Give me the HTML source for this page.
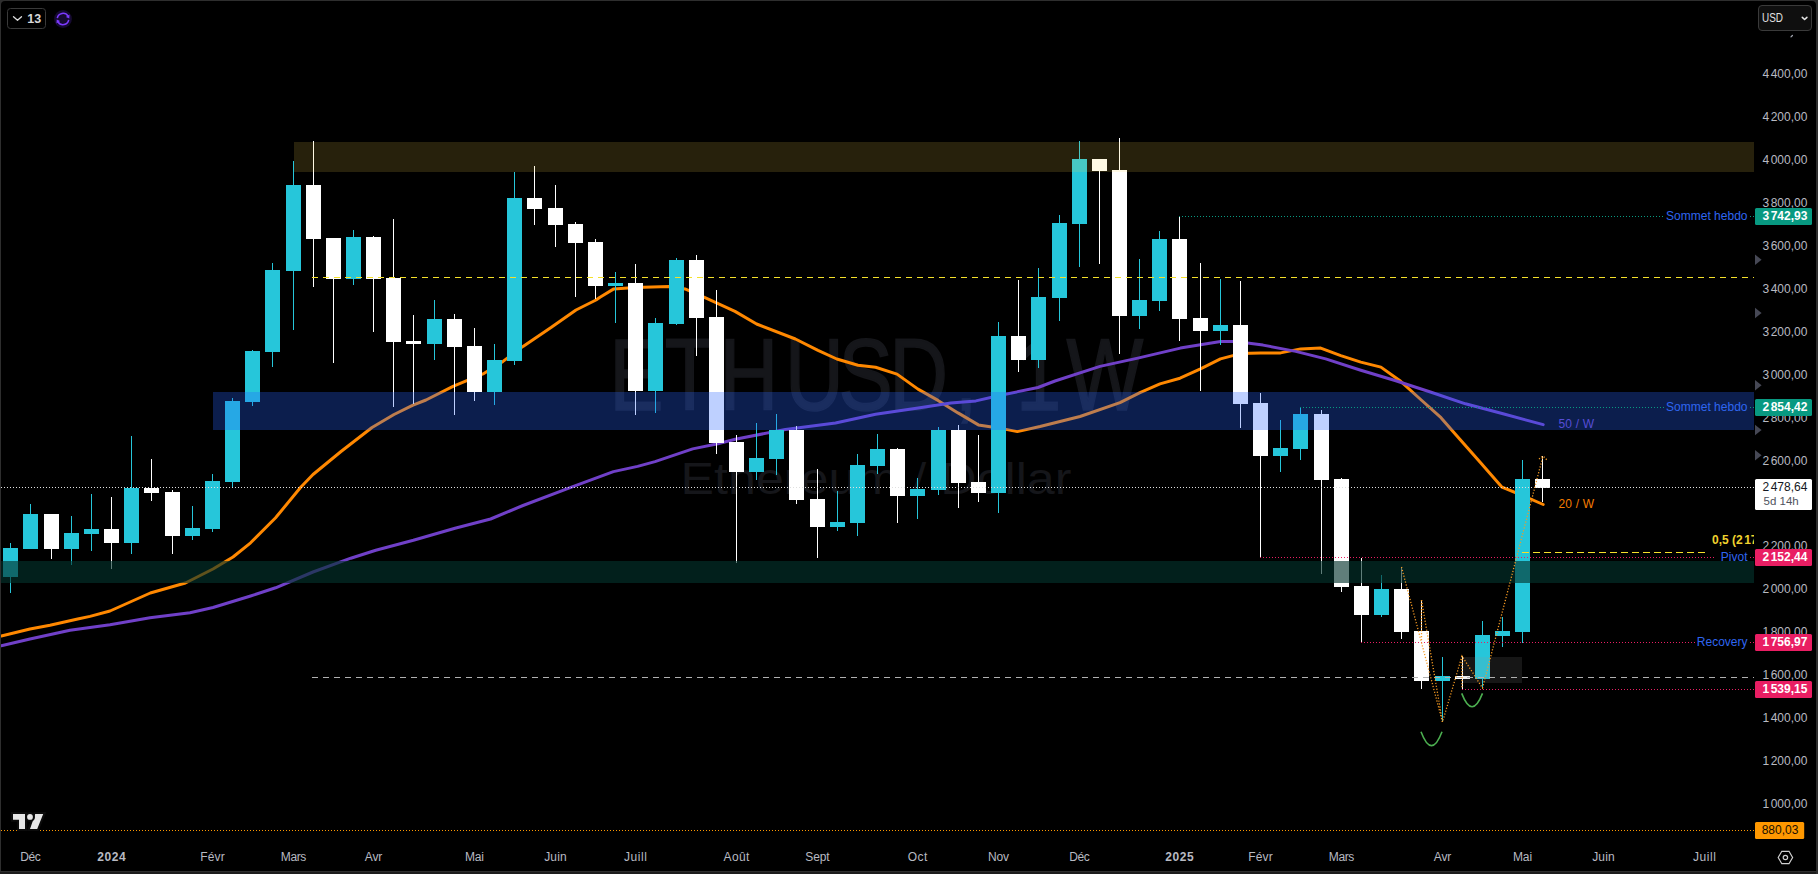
<!DOCTYPE html><html><head><meta charset="utf-8"><title>ETHUSD 1W</title><style>html,body{margin:0;padding:0;background:#000;overflow:hidden}</style></head><body><svg width="1818" height="874" viewBox="0 0 1818 874" style="display:block" font-family="Liberation Sans, sans-serif">
<rect x="0" y="0" width="1818" height="874" fill="#2e2e2e"/>
<rect x="0" y="872" width="1816" height="2" fill="#1c1c1c"/>
<path d="M1 871V5a4 4 0 0 1 4-4H1812a4 4 0 0 1 4 4V871Z" fill="#000"/>
<clipPath id="pane"><rect x="1" y="1" width="1753" height="840"/></clipPath>
<g clip-path="url(#pane)">
<g fill="#15161a">
<text transform="scale(0.8,1)" x="761.6 830.8 899.5 981.4 1048.0 1111.5 1193.4 1223.4 1269.9 1333.2" y="410.5" font-size="101.7" stroke="#15161a" stroke-width="1.6">ETHUSD, 1W</text>
<text x="680.5" y="494" font-size="45" textLength="391" lengthAdjust="spacingAndGlyphs">Ethereum / Dollar</text>
</g>
<polyline points="1.25,636 30,629 50,625.2 77.7,619 90,616.4 110,611 150.3,593 185.4,583 213,569 233,557 250.6,542.8 275.6,517.8 300.5,487.5 313,474.5 341,451.5 372,427.5 394,414.5 413,405.2 426,400 453,386.4 483,373.9 503,361.4 523,346.4 551,327.6 576,310 596,300 600,297.2 613.8,288.9 635,287.6 669,286.6 685,288.9 705,297.7 735,311.4 756.6,324 795.4,339 818,350.3 836.8,359 858,365.3 875.6,367.3 897,374.1 918,389.1 938,400.4 958,412.9 978.4,424.9 998.4,427.9 1017.3,431.6 1040,426.5 1080,416.5 1120,402.7 1140,392.7 1160,383.9 1180,378.2 1200.5,368.9 1220.5,358.9 1240.5,353.6 1260.6,352.9 1280.6,352.9 1300.7,348.9 1320.7,348.1 1340.8,355.6 1360.8,362.1 1380.9,367.1 1400.7,381.3 1420.7,399.5 1441,417.7 1453,431.4 1480.6,462.7 1502,487.2 1522.6,495.5 1543.2,504.5" fill="none" stroke="#ff8800" stroke-width="3" stroke-linejoin="round" stroke-linecap="round"/>
<polyline points="1.25,645.7 30,639 70,630.2 110,624.7 150,617.7 190,612.7 213,607.5 250.6,596 275.6,587.8 313,572 350.8,558.2 375.8,550.2 413.4,540.3 455,528.3 490.6,519 523,505.5 570.8,487.4 613.4,471.6 637.6,466.4 655,461.6 692.7,448.9 717.8,443.8 735.3,439.2 785.4,429.5 835.5,423 875.6,414.2 918.2,407.9 950.8,402.9 975.9,400.9 1000.5,395.3 1038,387.5 1055,381 1100,366.4 1137.8,358.1 1180.4,348.1 1220.5,341.6 1235.5,341.6 1263,345.1 1295.7,351.4 1325.7,358.9 1360.8,370.2 1395,380.5 1430.4,392 1465.5,403.8 1503,413.8 1543.2,424.6" fill="none" stroke="#7040c8" stroke-width="3" stroke-linejoin="round" stroke-linecap="round"/>
<text x="1558.5" y="428" font-size="12" fill="#6a45c4" textLength="35.6">50 / W</text>
<text x="1558.5" y="508" font-size="12" fill="#f57c00" textLength="35.6">20 / W</text>
<g shape-rendering="crispEdges">
<rect x="10" y="543" width="1" height="50" fill="#26c6da"/>
<rect x="30" y="504" width="1" height="45" fill="#26c6da"/>
<rect x="51" y="514" width="1" height="45" fill="#ffffff"/>
<rect x="71" y="516" width="1" height="49" fill="#26c6da"/>
<rect x="91" y="494" width="1" height="57" fill="#26c6da"/>
<rect x="111" y="497" width="1" height="72" fill="#ffffff"/>
<rect x="131" y="436" width="1" height="118" fill="#26c6da"/>
<rect x="151" y="459" width="1" height="42" fill="#ffffff"/>
<rect x="172" y="490" width="1" height="64" fill="#ffffff"/>
<rect x="192" y="506" width="1" height="34" fill="#26c6da"/>
<rect x="212" y="474" width="1" height="58" fill="#26c6da"/>
<rect x="232" y="398" width="1" height="89" fill="#26c6da"/>
<rect x="252" y="350" width="1" height="56" fill="#26c6da"/>
<rect x="272" y="263" width="1" height="104" fill="#26c6da"/>
<rect x="293" y="161" width="1" height="169" fill="#26c6da"/>
<rect x="313" y="141" width="1" height="146" fill="#ffffff"/>
<rect x="333" y="238" width="1" height="125" fill="#ffffff"/>
<rect x="353" y="230" width="1" height="55" fill="#26c6da"/>
<rect x="373" y="236" width="1" height="96" fill="#ffffff"/>
<rect x="393" y="219" width="1" height="188" fill="#ffffff"/>
<rect x="413" y="315" width="1" height="89" fill="#ffffff"/>
<rect x="434" y="300" width="1" height="60" fill="#26c6da"/>
<rect x="454" y="314" width="1" height="101" fill="#ffffff"/>
<rect x="474" y="328" width="1" height="73" fill="#ffffff"/>
<rect x="494" y="344" width="1" height="61" fill="#26c6da"/>
<rect x="514" y="172" width="1" height="193" fill="#26c6da"/>
<rect x="534" y="166" width="1" height="59" fill="#ffffff"/>
<rect x="555" y="185" width="1" height="62" fill="#ffffff"/>
<rect x="575" y="222" width="1" height="75" fill="#ffffff"/>
<rect x="595" y="239" width="1" height="60" fill="#ffffff"/>
<rect x="615" y="272" width="1" height="51" fill="#26c6da"/>
<rect x="635" y="264" width="1" height="151" fill="#ffffff"/>
<rect x="655" y="318" width="1" height="95" fill="#26c6da"/>
<rect x="676" y="258" width="1" height="67" fill="#26c6da"/>
<rect x="696" y="255" width="1" height="101" fill="#ffffff"/>
<rect x="716" y="290" width="1" height="164" fill="#ffffff"/>
<rect x="736" y="435" width="1" height="128" fill="#ffffff"/>
<rect x="756" y="423" width="1" height="57" fill="#26c6da"/>
<rect x="776" y="414" width="1" height="61" fill="#26c6da"/>
<rect x="796" y="426" width="1" height="78" fill="#ffffff"/>
<rect x="817" y="469" width="1" height="89" fill="#ffffff"/>
<rect x="837" y="491" width="1" height="40" fill="#26c6da"/>
<rect x="857" y="454" width="1" height="82" fill="#26c6da"/>
<rect x="877" y="434" width="1" height="40" fill="#26c6da"/>
<rect x="897" y="448" width="1" height="75" fill="#ffffff"/>
<rect x="917" y="478" width="1" height="41" fill="#26c6da"/>
<rect x="938" y="427" width="1" height="68" fill="#26c6da"/>
<rect x="958" y="425" width="1" height="83" fill="#ffffff"/>
<rect x="978" y="435" width="1" height="67" fill="#ffffff"/>
<rect x="998" y="322" width="1" height="191" fill="#26c6da"/>
<rect x="1018" y="280" width="1" height="92" fill="#ffffff"/>
<rect x="1038" y="268" width="1" height="100" fill="#26c6da"/>
<rect x="1059" y="215" width="1" height="106" fill="#26c6da"/>
<rect x="1079" y="141" width="1" height="126" fill="#26c6da"/>
<rect x="1099" y="159" width="1" height="105" fill="#ffffff"/>
<rect x="1119" y="138" width="1" height="216" fill="#ffffff"/>
<rect x="1139" y="259" width="1" height="70" fill="#26c6da"/>
<rect x="1159" y="231" width="1" height="80" fill="#26c6da"/>
<rect x="1179" y="216" width="1" height="125" fill="#ffffff"/>
<rect x="1200" y="263" width="1" height="128" fill="#ffffff"/>
<rect x="1220" y="279" width="1" height="66" fill="#26c6da"/>
<rect x="1240" y="281" width="1" height="147" fill="#ffffff"/>
<rect x="1260" y="393" width="1" height="164" fill="#ffffff"/>
<rect x="1280" y="420" width="1" height="52" fill="#26c6da"/>
<rect x="1300" y="407" width="1" height="53" fill="#26c6da"/>
<rect x="1321" y="410" width="1" height="164" fill="#ffffff"/>
<rect x="1341" y="478" width="1" height="114" fill="#ffffff"/>
<rect x="1361" y="558" width="1" height="84" fill="#ffffff"/>
<rect x="1381" y="575" width="1" height="42" fill="#26c6da"/>
<rect x="1401" y="567" width="1" height="72" fill="#ffffff"/>
<rect x="1421" y="600" width="1" height="89" fill="#ffffff"/>
<rect x="1442" y="657" width="1" height="65" fill="#26c6da"/>
<rect x="1462" y="656" width="1" height="33" fill="#ffffff"/>
<rect x="1482" y="621" width="1" height="67" fill="#26c6da"/>
<rect x="1502" y="617" width="1" height="30" fill="#26c6da"/>
<rect x="1522" y="460" width="1" height="183" fill="#26c6da"/>
<rect x="1542" y="456" width="1" height="46" fill="#ffffff"/>
<rect x="3" y="548" width="15" height="29" fill="#26c6da"/>
<rect x="23" y="514" width="15" height="35" fill="#26c6da"/>
<rect x="44" y="514" width="15" height="35" fill="#ffffff"/>
<rect x="64" y="533" width="15" height="16" fill="#26c6da"/>
<rect x="84" y="529" width="15" height="5" fill="#26c6da"/>
<rect x="104" y="529" width="15" height="14" fill="#ffffff"/>
<rect x="124" y="488" width="15" height="55" fill="#26c6da"/>
<rect x="144" y="488" width="15" height="5" fill="#ffffff"/>
<rect x="165" y="492" width="15" height="44" fill="#ffffff"/>
<rect x="185" y="528" width="15" height="8" fill="#26c6da"/>
<rect x="205" y="481" width="15" height="48" fill="#26c6da"/>
<rect x="225" y="401" width="15" height="81" fill="#26c6da"/>
<rect x="245" y="351" width="15" height="51" fill="#26c6da"/>
<rect x="265" y="270" width="15" height="82" fill="#26c6da"/>
<rect x="286" y="185" width="15" height="86" fill="#26c6da"/>
<rect x="306" y="185" width="15" height="54" fill="#ffffff"/>
<rect x="326" y="238" width="15" height="41" fill="#ffffff"/>
<rect x="346" y="237" width="15" height="42" fill="#26c6da"/>
<rect x="366" y="237" width="15" height="42" fill="#ffffff"/>
<rect x="386" y="278" width="15" height="64" fill="#ffffff"/>
<rect x="406" y="341" width="15" height="3" fill="#ffffff"/>
<rect x="427" y="319" width="15" height="25" fill="#26c6da"/>
<rect x="447" y="319" width="15" height="28" fill="#ffffff"/>
<rect x="467" y="346" width="15" height="46" fill="#ffffff"/>
<rect x="487" y="360" width="15" height="32" fill="#26c6da"/>
<rect x="507" y="198" width="15" height="163" fill="#26c6da"/>
<rect x="527" y="198" width="15" height="11" fill="#ffffff"/>
<rect x="548" y="208" width="15" height="17" fill="#ffffff"/>
<rect x="568" y="224" width="15" height="19" fill="#ffffff"/>
<rect x="588" y="242" width="15" height="44" fill="#ffffff"/>
<rect x="608" y="283" width="15" height="3" fill="#26c6da"/>
<rect x="628" y="283" width="15" height="108" fill="#ffffff"/>
<rect x="648" y="323" width="15" height="68" fill="#26c6da"/>
<rect x="669" y="260" width="15" height="64" fill="#26c6da"/>
<rect x="689" y="260" width="15" height="58" fill="#ffffff"/>
<rect x="709" y="317" width="15" height="126" fill="#ffffff"/>
<rect x="729" y="442" width="15" height="30" fill="#ffffff"/>
<rect x="749" y="458" width="15" height="14" fill="#26c6da"/>
<rect x="769" y="430" width="15" height="29" fill="#26c6da"/>
<rect x="789" y="430" width="15" height="70" fill="#ffffff"/>
<rect x="810" y="499" width="15" height="28" fill="#ffffff"/>
<rect x="830" y="522" width="15" height="5" fill="#26c6da"/>
<rect x="850" y="465" width="15" height="58" fill="#26c6da"/>
<rect x="870" y="449" width="15" height="17" fill="#26c6da"/>
<rect x="890" y="449" width="15" height="47" fill="#ffffff"/>
<rect x="910" y="489" width="15" height="7" fill="#26c6da"/>
<rect x="931" y="430" width="15" height="60" fill="#26c6da"/>
<rect x="951" y="430" width="15" height="53" fill="#ffffff"/>
<rect x="971" y="482" width="15" height="11" fill="#ffffff"/>
<rect x="991" y="336" width="15" height="157" fill="#26c6da"/>
<rect x="1011" y="336" width="15" height="24" fill="#ffffff"/>
<rect x="1031" y="297" width="15" height="63" fill="#26c6da"/>
<rect x="1052" y="223" width="15" height="75" fill="#26c6da"/>
<rect x="1072" y="159" width="15" height="65" fill="#26c6da"/>
<rect x="1092" y="159" width="15" height="12" fill="#ffffff"/>
<rect x="1112" y="170" width="15" height="146" fill="#ffffff"/>
<rect x="1132" y="300" width="15" height="16" fill="#26c6da"/>
<rect x="1152" y="239" width="15" height="62" fill="#26c6da"/>
<rect x="1172" y="239" width="15" height="80" fill="#ffffff"/>
<rect x="1193" y="318" width="15" height="13" fill="#ffffff"/>
<rect x="1213" y="325" width="15" height="6" fill="#26c6da"/>
<rect x="1233" y="325" width="15" height="79" fill="#ffffff"/>
<rect x="1253" y="403" width="15" height="53" fill="#ffffff"/>
<rect x="1273" y="448" width="15" height="8" fill="#26c6da"/>
<rect x="1293" y="414" width="15" height="35" fill="#26c6da"/>
<rect x="1314" y="414" width="15" height="66" fill="#ffffff"/>
<rect x="1334" y="479" width="15" height="108" fill="#ffffff"/>
<rect x="1354" y="586" width="15" height="29" fill="#ffffff"/>
<rect x="1374" y="589" width="15" height="26" fill="#26c6da"/>
<rect x="1394" y="589" width="15" height="43" fill="#ffffff"/>
<rect x="1414" y="631" width="15" height="50" fill="#ffffff"/>
<rect x="1435" y="676" width="15" height="5" fill="#26c6da"/>
<rect x="1455" y="676" width="15" height="3" fill="#ffffff"/>
<rect x="1475" y="635" width="15" height="44" fill="#26c6da"/>
<rect x="1495" y="631" width="15" height="5" fill="#26c6da"/>
<rect x="1515" y="479" width="15" height="153" fill="#26c6da"/>
<rect x="1535" y="479" width="15" height="9" fill="#ffffff"/>
</g>
<g shape-rendering="crispEdges">
<rect x="294" y="142" width="1460" height="30" fill="rgb(255,213,80)" fill-opacity="0.153"/>
<rect x="213" y="392" width="1541" height="38" fill="rgb(41,98,255)" fill-opacity="0.3"/>
<rect x="1" y="561" width="1753" height="22" fill="rgb(3,51,44)" fill-opacity="0.63"/>
<rect x="1463" y="657" width="59" height="26" fill="rgb(150,150,150)" fill-opacity="0.15"/>
</g>
<line x1="312" y1="277.5" x2="1754" y2="277.5" stroke="#f5e12a" stroke-width="1" stroke-dasharray="6 5" shape-rendering="crispEdges" />
<line x1="1522" y1="552.5" x2="1706" y2="552.5" stroke="#f5e12a" stroke-width="1" stroke-dasharray="7 4" shape-rendering="crispEdges" />
<line x1="312" y1="677.5" x2="1754" y2="677.5" stroke="#b0b0b0" stroke-width="1" stroke-dasharray="6 5" shape-rendering="crispEdges" />
<line x1="1" y1="487.5" x2="1754" y2="487.5" stroke="#e0e0e0" stroke-width="1" stroke-dasharray="1 2" shape-rendering="crispEdges" />
<line x1="1179" y1="216.5" x2="1665" y2="216.5" stroke="#089981" stroke-width="1" stroke-dasharray="1 2" shape-rendering="crispEdges" />
<line x1="1750" y1="216.5" x2="1754" y2="216.5" stroke="#089981" stroke-width="1" stroke-dasharray="1 2" shape-rendering="crispEdges" />
<line x1="1300" y1="407.5" x2="1665" y2="407.5" stroke="#089981" stroke-width="1" stroke-dasharray="1 2" shape-rendering="crispEdges" />
<line x1="1750" y1="407.5" x2="1754" y2="407.5" stroke="#089981" stroke-width="1" stroke-dasharray="1 2" shape-rendering="crispEdges" />
<line x1="1260" y1="557.5" x2="1716" y2="557.5" stroke="#e91e63" stroke-width="1" stroke-dasharray="1 2" shape-rendering="crispEdges" />
<line x1="1750" y1="557.5" x2="1754" y2="557.5" stroke="#e91e63" stroke-width="1" stroke-dasharray="1 2" shape-rendering="crispEdges" />
<line x1="1361" y1="642.5" x2="1695" y2="642.5" stroke="#e91e63" stroke-width="1" stroke-dasharray="1 2" shape-rendering="crispEdges" />
<line x1="1750" y1="642.5" x2="1754" y2="642.5" stroke="#e91e63" stroke-width="1" stroke-dasharray="1 2" shape-rendering="crispEdges" />
<line x1="1462" y1="689.5" x2="1754" y2="689.5" stroke="#e91e63" stroke-width="1" stroke-dasharray="1 2" shape-rendering="crispEdges" />
<line x1="1" y1="830.5" x2="1754" y2="830.5" stroke="#ff9800" stroke-width="1" stroke-dasharray="1 2" shape-rendering="crispEdges" />
<polyline points="1401.5,567 1442.5,722 1462,656 1482.5,688 1543,456" fill="none" stroke="#f59a23" stroke-width="1.3" stroke-dasharray="1.2 1.8"/>
<polyline points="1421.5,600 1442.5,722" fill="none" stroke="#f59a23" stroke-width="1.3" stroke-dasharray="1.2 1.8"/>
<polyline points="1421.5,600 1421.5,640" fill="none" stroke="#f59a23" stroke-width="1.3" stroke-dasharray="1.2 1.8"/>
<polyline points="1462,656 1462,689" fill="none" stroke="#f59a23" stroke-width="1.3" stroke-dasharray="1.2 1.8"/>
<polyline points="1539,459 1543,456 1547,460" fill="none" stroke="#f59a23" stroke-width="1.3" stroke-dasharray="1.2 1.8"/>
<path d="M1421 731.7Q1431.5 759.5 1442 731.7" fill="none" stroke="#4caf50" stroke-width="1.6"/>
<path d="M1461.7 693.4Q1472 720 1482.5 693.4" fill="none" stroke="#4caf50" stroke-width="1.6"/>
<g font-size="12" fill="#2f66f0" text-anchor="end">
<text x="1747.5" y="220">Sommet hebdo</text>
<text x="1747.5" y="411">Sommet hebdo</text>
<text x="1747.5" y="561">Pivot</text>
<text x="1747.5" y="646">Recovery</text>
</g>
<text x="1712" y="544" font-size="12" font-weight="bold" fill="#f0d22e">0,5 (2<tspan dx="1.5">172,29)</tspan></text>
<g transform="translate(13,814)">
<path d="M0 0H12V15H6V5.7H0Z M22.2 0H30.2L24.2 15H17Z" fill="#e6e6e6" stroke="#0b0b0b" stroke-width="4.2" paint-order="stroke" stroke-linejoin="miter"/>
<circle cx="17" cy="2.9" r="2.9" fill="#e6e6e6" stroke="#0b0b0b" stroke-width="4.2" paint-order="stroke"/>
</g>
</g>
<rect x="7.5" y="8.5" width="38" height="20" rx="3" fill="none" stroke="#3a3a3a"/>
<path d="M13.5 16.7L17.5 20.3L21.5 16.7" fill="none" stroke="#dcdcdc" stroke-width="1.3" stroke-linecap="round" stroke-linejoin="round"/>
<text x="27.2" y="23" font-size="12.5" font-weight="bold" fill="#d8d8d8">13</text>
<circle cx="63" cy="19" r="8.9" fill="#160a32"/>
<g fill="none" stroke="#7c3aff" stroke-width="1.5">
<path d="M57.3 18.2A5.8 5.8 0 0 1 68 16.2"/>
<path d="M68.7 19.8A5.8 5.8 0 0 1 58 21.8"/>
</g>
<path d="M69.5 14.6L69.3 18.5L65.9 17Z M56.5 23.4L56.7 19.5L60.1 21Z" fill="#7c3aff"/>
<rect x="1758.5" y="5.5" width="53" height="25" rx="3.5" fill="#0f0f0f" stroke="#3a3a3a"/>
<text x="1762" y="22" font-size="12" fill="#e0e0e0" textLength="21" lengthAdjust="spacingAndGlyphs">USD</text>
<path d="M1802.3 17.4L1804.6 19.5L1806.9 17.4" fill="none" stroke="#e4e4e4" stroke-width="1.6" stroke-linecap="round" stroke-linejoin="round"/>
<path d="M1791 36.9L1792.4 35.5" stroke="#a0a3ad" stroke-width="1.3" stroke-linecap="round"/>
<text x="1807.4" y="78" font-size="12" fill="#b8bac2" font-weight="normal" text-anchor="end"><tspan>4</tspan><tspan dx="1.6">400,00</tspan></text>
<text x="1807.4" y="121" font-size="12" fill="#b8bac2" font-weight="normal" text-anchor="end"><tspan>4</tspan><tspan dx="1.6">200,00</tspan></text>
<text x="1807.4" y="164" font-size="12" fill="#b8bac2" font-weight="normal" text-anchor="end"><tspan>4</tspan><tspan dx="1.6">000,00</tspan></text>
<text x="1807.4" y="207" font-size="12" fill="#b8bac2" font-weight="normal" text-anchor="end"><tspan>3</tspan><tspan dx="1.6">800,00</tspan></text>
<text x="1807.4" y="250" font-size="12" fill="#b8bac2" font-weight="normal" text-anchor="end"><tspan>3</tspan><tspan dx="1.6">600,00</tspan></text>
<text x="1807.4" y="293" font-size="12" fill="#b8bac2" font-weight="normal" text-anchor="end"><tspan>3</tspan><tspan dx="1.6">400,00</tspan></text>
<text x="1807.4" y="336" font-size="12" fill="#b8bac2" font-weight="normal" text-anchor="end"><tspan>3</tspan><tspan dx="1.6">200,00</tspan></text>
<text x="1807.4" y="379" font-size="12" fill="#b8bac2" font-weight="normal" text-anchor="end"><tspan>3</tspan><tspan dx="1.6">000,00</tspan></text>
<text x="1807.4" y="422" font-size="12" fill="#b8bac2" font-weight="normal" text-anchor="end"><tspan>2</tspan><tspan dx="1.6">800,00</tspan></text>
<text x="1807.4" y="465" font-size="12" fill="#b8bac2" font-weight="normal" text-anchor="end"><tspan>2</tspan><tspan dx="1.6">600,00</tspan></text>
<text x="1807.4" y="550" font-size="12" fill="#b8bac2" font-weight="normal" text-anchor="end"><tspan>2</tspan><tspan dx="1.6">200,00</tspan></text>
<text x="1807.4" y="593" font-size="12" fill="#b8bac2" font-weight="normal" text-anchor="end"><tspan>2</tspan><tspan dx="1.6">000,00</tspan></text>
<text x="1807.4" y="636" font-size="12" fill="#b8bac2" font-weight="normal" text-anchor="end"><tspan>1</tspan><tspan dx="1.6">800,00</tspan></text>
<text x="1807.4" y="679" font-size="12" fill="#b8bac2" font-weight="normal" text-anchor="end"><tspan>1</tspan><tspan dx="1.6">600,00</tspan></text>
<text x="1807.4" y="722" font-size="12" fill="#b8bac2" font-weight="normal" text-anchor="end"><tspan>1</tspan><tspan dx="1.6">400,00</tspan></text>
<text x="1807.4" y="765" font-size="12" fill="#b8bac2" font-weight="normal" text-anchor="end"><tspan>1</tspan><tspan dx="1.6">200,00</tspan></text>
<text x="1807.4" y="808" font-size="12" fill="#b8bac2" font-weight="normal" text-anchor="end"><tspan>1</tspan><tspan dx="1.6">000,00</tspan></text>
<path d="M1755 254.6L1761.6 259.8L1755 265.0Z" fill="#464855"/>
<path d="M1755 307.8L1761.6 313L1755 318.2Z" fill="#464855"/>
<path d="M1755 380.0L1761.6 385.2L1755 390.4Z" fill="#464855"/>
<path d="M1755 424.8L1761.6 430L1755 435.2Z" fill="#464855"/>
<path d="M1755 450.1L1761.6 455.3L1755 460.5Z" fill="#464855"/>
<rect x="1755" y="208" width="57" height="17" rx="1.5" fill="#089981"/>
<text x="1807.4" y="220" font-size="12" fill="#fff" font-weight="bold" text-anchor="end"><tspan>3</tspan><tspan dx="1.6">742,93</tspan></text>
<rect x="1755" y="399" width="57" height="17" rx="1.5" fill="#089981"/>
<text x="1807.4" y="411" font-size="12" fill="#fff" font-weight="bold" text-anchor="end"><tspan>2</tspan><tspan dx="1.6">854,42</tspan></text>
<rect x="1755" y="549" width="57" height="17" rx="1.5" fill="#e91e63"/>
<text x="1807.4" y="561" font-size="12" fill="#fff" font-weight="bold" text-anchor="end"><tspan>2</tspan><tspan dx="1.6">152,44</tspan></text>
<rect x="1755" y="634" width="57" height="17" rx="1.5" fill="#e91e63"/>
<text x="1807.4" y="646" font-size="12" fill="#fff" font-weight="bold" text-anchor="end"><tspan>1</tspan><tspan dx="1.6">756,97</tspan></text>
<rect x="1755" y="681" width="57" height="17" rx="1.5" fill="#e91e63"/>
<text x="1807.4" y="693" font-size="12" fill="#fff" font-weight="bold" text-anchor="end"><tspan>1</tspan><tspan dx="1.6">539,15</tspan></text>
<rect x="1755" y="479" width="57" height="31" rx="1.5" fill="#fff"/>
<text x="1807.4" y="491" font-size="12" fill="#131722" font-weight="normal" text-anchor="end"><tspan>2</tspan><tspan dx="1.6">478,64</tspan></text>
<text x="1763.5" y="505" font-size="11.5" fill="#50535e">5d 14h</text>
<rect x="1755" y="822" width="49.2" height="17" rx="1.5" fill="#ff9800"/>
<text x="1798.4" y="834" font-size="12" fill="#201000" text-anchor="end">880,03</text>
<text x="20.2" y="861" font-size="12" fill="#b8bac2" textLength="20.5">Déc</text>
<text x="97.2" y="861" font-size="12" fill="#b8bac2" textLength="28.5" font-weight="bold">2024</text>
<text x="200.2" y="861" font-size="12" fill="#b8bac2" textLength="24.5">Févr</text>
<text x="280.8" y="861" font-size="12" fill="#b8bac2" textLength="25.5">Mars</text>
<text x="364.8" y="861" font-size="12" fill="#b8bac2" textLength="17.5">Avr</text>
<text x="464.9" y="861" font-size="12" fill="#b8bac2" textLength="19.1">Mai</text>
<text x="544.2" y="861" font-size="12" fill="#b8bac2" textLength="22.5">Juin</text>
<text x="624.1" y="861" font-size="12" fill="#b8bac2" textLength="22.8">Juill</text>
<text x="723.6" y="861" font-size="12" fill="#b8bac2" textLength="25.8">Août</text>
<text x="805.2" y="861" font-size="12" fill="#b8bac2" textLength="24.5">Sept</text>
<text x="907.8" y="861" font-size="12" fill="#b8bac2" textLength="19.5">Oct</text>
<text x="988.0" y="861" font-size="12" fill="#b8bac2" textLength="21.1">Nov</text>
<text x="1069.2" y="861" font-size="12" fill="#b8bac2" textLength="20.5">Déc</text>
<text x="1165.3" y="861" font-size="12" fill="#b8bac2" textLength="28.3" font-weight="bold">2025</text>
<text x="1248.2" y="861" font-size="12" fill="#b8bac2" textLength="24.5">Févr</text>
<text x="1328.8" y="861" font-size="12" fill="#b8bac2" textLength="25.5">Mars</text>
<text x="1433.8" y="861" font-size="12" fill="#b8bac2" textLength="17.5">Avr</text>
<text x="1513.0" y="861" font-size="12" fill="#b8bac2" textLength="19.1">Mai</text>
<text x="1592.2" y="861" font-size="12" fill="#b8bac2" textLength="22.5">Juin</text>
<text x="1693.1" y="861" font-size="12" fill="#b8bac2" textLength="22.8">Juill</text>
<g fill="none" stroke="#d0d0d0" stroke-width="1.2"><path d="M1778.2 857.5L1781.8 851.3H1789L1792.6 857.5L1789 863.7H1781.8Z"/><circle cx="1785.4" cy="857.5" r="2.2"/></g>
</svg></body></html>
